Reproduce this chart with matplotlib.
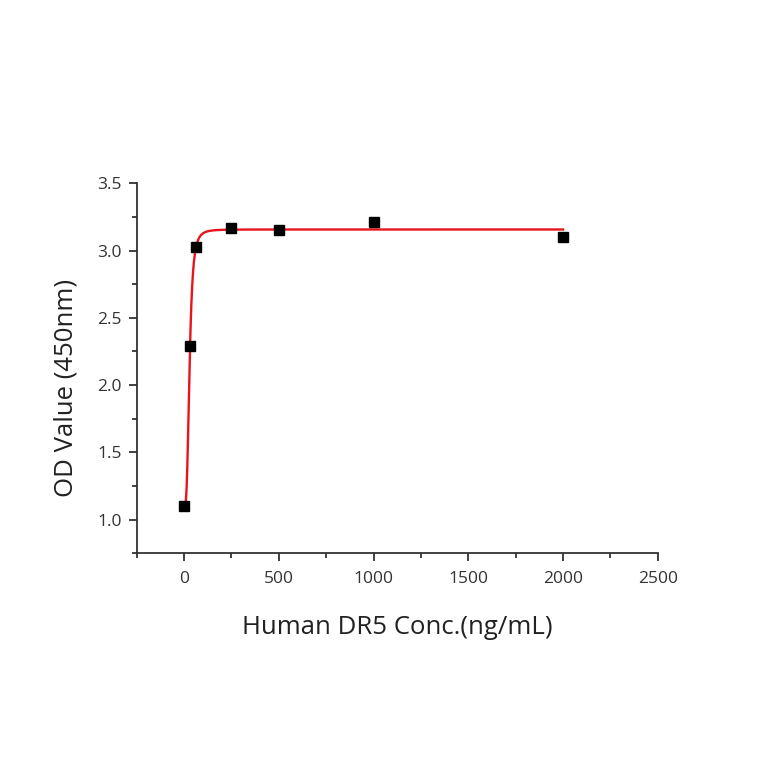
import numpy as np
import matplotlib
matplotlib.use("Agg")
import matplotlib.pyplot as plt
from matplotlib.ticker import MultipleLocator, FormatStrFormatter

# Data
conc = [0, 31.25, 62.5, 250, 500, 1000, 2000]
od = [1.10, 2.29, 3.03, 3.165, 3.155, 3.215, 3.10]

# 4-parameter logistic fit parameters (bottom, top, EC50, hill)
fit_bottom, fit_top, fit_c, fit_hill = 1.10, 3.157, 28.5, 3.4

plt.rcParams['font.family'] = ['Open Sans', 'DejaVu Sans']
fig = plt.figure(figsize=(7.64, 7.64), dpi=100)
ax = fig.add_axes([0.179, 0.276, 0.682, 0.484])

xs = np.linspace(0, max(conc), 4000)
ys = fit_top + (fit_bottom - fit_top) / (1 + (xs / fit_c) ** fit_hill)
ax.plot(xs, ys, color='#e8141b', lw=1.7, zorder=2)
ax.plot(conc, od, 's', color='black', markersize=6.5, zorder=3)

ax.set_xlim(-250, 2500)
ax.set_ylim(0.75, 3.5)
ax.xaxis.set_major_locator(MultipleLocator(500))
ax.xaxis.set_minor_locator(MultipleLocator(250))
ax.yaxis.set_major_locator(MultipleLocator(0.5))
ax.yaxis.set_minor_locator(MultipleLocator(0.25))
ax.yaxis.set_major_formatter(FormatStrFormatter('%.1f'))

for s in ['top', 'right']:
    ax.spines[s].set_visible(False)
for s in ['left', 'bottom']:
    ax.spines[s].set_color('#333333')
    ax.spines[s].set_linewidth(1.3)
ax.tick_params(which='major', direction='out', length=6, width=1.3, color='#333333',
               labelsize=12.5, labelcolor='#333333')
ax.tick_params(axis='x', which='major', pad=7)
ax.tick_params(axis='y', which='major', pad=5)
ax.tick_params(which='minor', direction='out', length=3.5, width=1.3, color='#333333')

ax.set_xlabel('Human DR5 Conc.(ng/mL)', fontsize=18.5, color='#222222', va='center')
ax.set_ylabel('OD Value (450nm)', fontsize=18.5, color='#222222', va='center')
ax.xaxis.set_label_coords(0.5, -0.20)
ax.yaxis.set_label_coords(-0.136, 0.446)

fig.savefig('out.png', dpi=100, facecolor='white')
